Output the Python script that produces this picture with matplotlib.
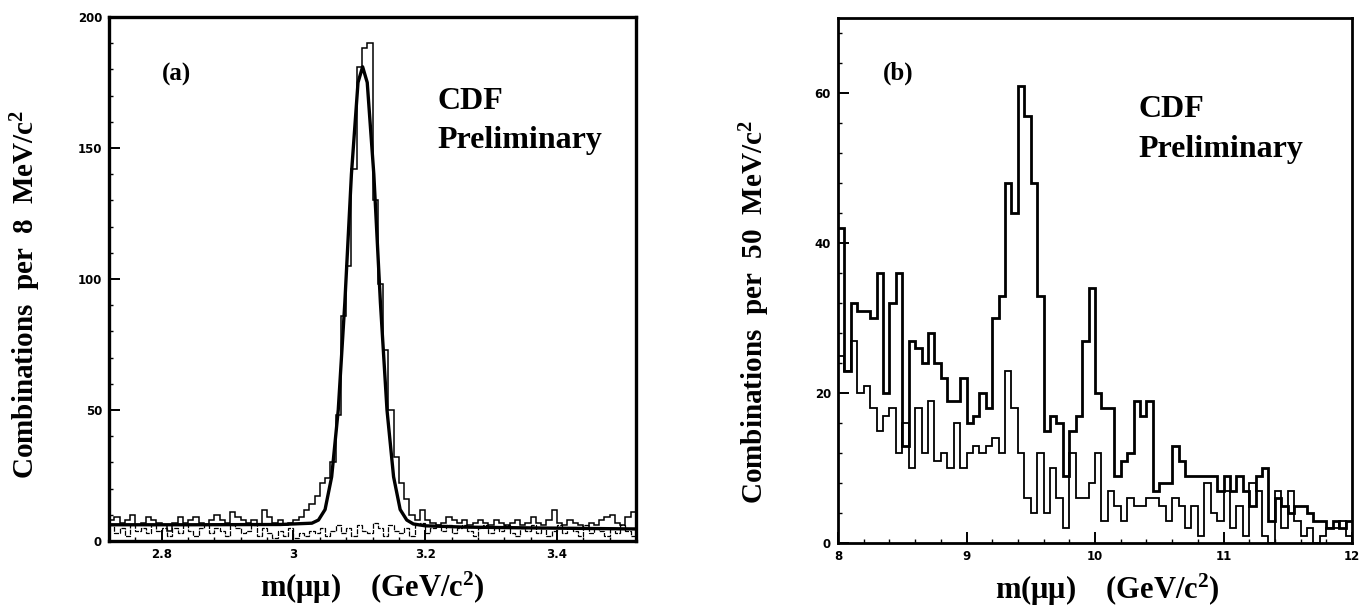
import matplotlib

matplotlib.use("Agg")
import matplotlib.pyplot as plt
import numpy as np
from matplotlib.ticker import MultipleLocator

plt.rcParams["font.family"] = ["Liberation Serif", "DejaVu Serif"]
plt.rcParams["mathtext.fontset"] = "custom"
plt.rcParams["mathtext.rm"] = "Liberation Serif:bold"
plt.rcParams["mathtext.it"] = "Liberation Serif:bold"
plt.rcParams["mathtext.bf"] = "Liberation Serif:bold"

# ── (a) J/psi region: 8 MeV bins, 2.72 - 3.52 GeV ─────────────────────────────
a_lo, a_hi, a_bin = 2.72, 3.52, 0.008

a_opposite = [
    8, 9, 7, 8, 10, 6, 7, 9, 8, 7,
    6, 4, 7, 9, 7, 8, 9, 7, 6, 8,
    10, 8, 7, 11, 9, 8, 7, 8, 6, 12,
    9, 7, 8, 6, 7, 8, 9, 12, 14, 17,
    22, 24, 30, 48, 86, 105, 142, 181, 188, 190,
    130, 98, 73, 50, 32, 22, 16, 10, 8, 12,
    8, 7, 6, 7, 9, 8, 7, 8, 6, 7,
    8, 7, 6, 8, 7, 6, 7, 8, 6, 7,
    9, 7, 6, 8, 12, 7, 6, 8, 7, 6,
    5, 7, 6, 8, 9, 10, 7, 6, 9, 11,
]
a_same = [
    6, 3, 5, 2, 6, 4, 5, 3, 6, 4,
    5, 2, 5, 3, 6, 4, 2, 5, 6, 3,
    5, 4, 2, 6, 5, 3, 4, 6, 2, 5,
    3, 1, 4, 2, 5, 1, 3, 2, 4, 3,
    5, 2, 4, 6, 3, 5, 2, 6, 4, 3,
    7, 5, 2, 6, 4, 3, 5, 2, 6, 7,
    3, 5, 6, 4, 6, 3, 5, 6, 4, 2,
    5, 6, 3, 5, 4, 6, 3, 2, 5, 4,
    6, 3, 5, 2, 4, 6, 3, 5, 4, 2,
    6, 3, 5, 4, 2, 5, 3, 6, 4, 2,
]
fit_mass = [2.72, 2.85, 2.98, 3.028, 3.038, 3.048, 3.058, 3.068, 3.078, 3.088,
            3.098, 3.105, 3.112, 3.122, 3.132, 3.142, 3.152, 3.162, 3.172,
            3.182, 3.20, 3.26, 3.36, 3.52]
fit_value = [6.2, 6.2, 6.3, 6.8, 8, 12, 24.5, 50, 91, 140, 175,
             181, 175, 140, 91, 50, 24.5, 12, 8, 6.5,
             5.8, 5.3, 5.0, 4.6]

# ── (b) Upsilon region: 50 MeV bins, 8 - 12 GeV ───────────────────────────────
b_lo, b_hi, b_bin = 8.0, 12.0, 0.05

b_opposite = [
    42, 23, 32, 31, 31, 30, 36, 20, 32, 36,
    13, 27, 26, 24, 28, 24, 22, 19, 19, 22,
    16, 17, 20, 18, 30, 33, 48, 44, 61, 57,
    48, 33, 15, 17, 16, 9, 15, 17, 27, 34,
    20, 18, 18, 9, 11, 12, 19, 17, 19, 7,
    8, 8, 13, 11, 9, 9, 9, 9, 9, 7,
    9, 7, 9, 7, 5, 9, 10, 3, 6, 5,
    4, 5, 5, 4, 3, 3, 2, 3, 2, 3,
]
b_same = [
    25, 23, 27, 20, 21, 18, 15, 17, 18, 12,
    16, 10, 18, 12, 19, 11, 12, 10, 16, 10,
    12, 13, 12, 13, 14, 12, 23, 18, 12, 6,
    4, 12, 4, 10, 6, 2, 12, 6, 6, 8,
    12, 3, 7, 5, 3, 6, 5, 5, 6, 6,
    5, 3, 6, 5, 2, 5, 1, 8, 4, 3,
    7, 2, 5, 1, 8, 7, 1, 0, 7, 2,
    7, 3, 1, 2, 0, 1, 2, 2, 3, 1,
]

W, H = 1368, 612


def _style(ax, lw=2.2):
    for s in ax.spines.values():
        s.set_linewidth(lw)
    ax.tick_params(which="major", direction="in", length=8, width=1.4,
                   labelsize=8.5, pad=5, top=False, right=False)
    ax.tick_params(which="minor", direction="in", length=3, width=1.0)
    for lab in ax.get_xticklabels() + ax.get_yticklabels():
        lab.set_fontfamily("DejaVu Sans")
        lab.set_fontweight("bold")


def _labels(ax, ylabel, ycoords, xcenter):
    ax.set_ylabel(ylabel, fontsize=21, fontweight="bold")
    ax.yaxis.set_label_coords(*ycoords)
    ax.set_xlabel("m(μμ)    (GeV/c$^2$)", fontsize=22, fontweight="bold",
                  va="center")
    ax.xaxis.set_label_coords(xcenter, -0.09)


fig = plt.figure(figsize=(W / 100, H / 100), dpi=100)

# ---- panel (a)
ax1 = fig.add_axes([109 / W, 1 - 541 / H, 527 / W, 524 / H])
edges_a = np.arange(len(a_opposite) + 1) * a_bin + a_lo
ax1.stairs(a_opposite, edges_a, baseline=None, color="black", linewidth=1.1)
ax1.stairs(a_same, edges_a, baseline=None, color="black", linewidth=0.9,
           linestyle=(0, (4, 1)))
ax1.plot(fit_mass, fit_value, color="black", linewidth=2.4)
ax1.set_xlim(a_lo, a_hi)
ax1.set_ylim(0, 200)
ax1.set_xticks([2.8, 3.0, 3.2, 3.4], ["2.8", "3", "3.2", "3.4"])
ax1.set_yticks([0, 50, 100, 150, 200])
ax1.xaxis.set_minor_locator(MultipleLocator(0.04))
ax1.yaxis.set_minor_locator(MultipleLocator(10))
_style(ax1, 2.4)
_labels(ax1, "Combinations  per  8  MeV/c$^2$", (-0.126, 0.47), 0.5)
ax1.text(0.10, 0.89, "(a)", transform=ax1.transAxes, fontsize=18,
         fontweight="bold", va="center")
ax1.text(0.624, 0.838, "CDF", transform=ax1.transAxes, fontsize=23,
         fontweight="bold", va="center")
ax1.text(0.624, 0.765, "Preliminary", transform=ax1.transAxes, fontsize=23,
         fontweight="bold", va="center")

# ---- panel (b)
ax2 = fig.add_axes([838 / W, 1 - 543 / H, 514 / W, 525 / H])
edges_b = np.arange(len(b_opposite) + 1) * b_bin + b_lo
ax2.stairs(b_opposite, edges_b, baseline=None, color="black", linewidth=2.0)
ax2.stairs(b_same, edges_b, baseline=None, color="black", linewidth=1.3)
ax2.set_xlim(b_lo, b_hi)
ax2.set_ylim(0, 70)
ax2.set_xticks([8, 9, 10, 11, 12], ["8", "9", "10", "11", "12"])
ax2.set_yticks([0, 20, 40, 60])
ax2.xaxis.set_minor_locator(MultipleLocator(0.2))
ax2.yaxis.set_minor_locator(MultipleLocator(4))
_style(ax2, 2.0)
_labels(ax2, "Combinations  per  50  MeV/c$^2$", (-0.128, 0.44), 0.525)
ax2.text(0.088, 0.895, "(b)", transform=ax2.transAxes, fontsize=18,
         fontweight="bold", va="center")
ax2.text(0.584, 0.825, "CDF", transform=ax2.transAxes, fontsize=23,
         fontweight="bold", va="center")
ax2.text(0.584, 0.75, "Preliminary", transform=ax2.transAxes, fontsize=23,
         fontweight="bold", va="center")

fig.savefig("out.png", dpi=100)
plt.close(fig)
